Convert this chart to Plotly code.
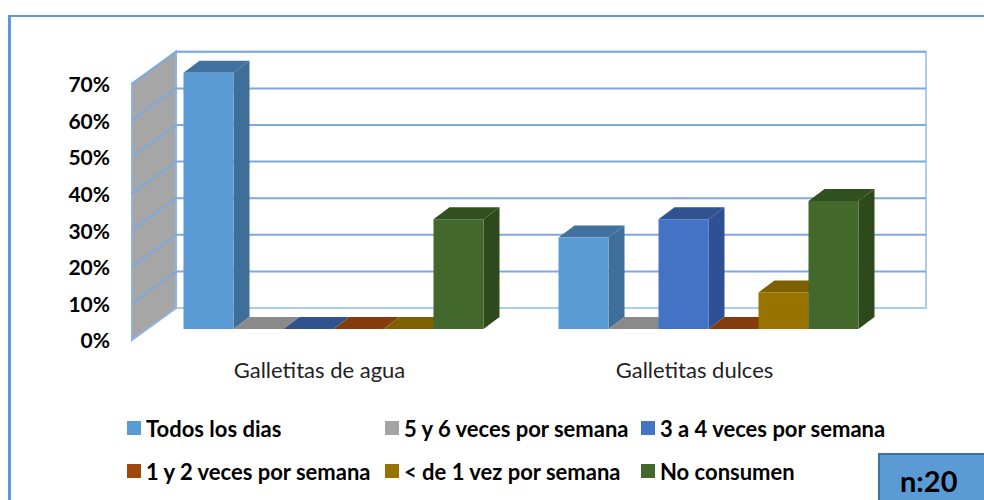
import plotly.graph_objects as go

categories = ["Galletitas de agua", "Galletitas dulces"]
series_names = [
    "Todos los dias",
    "5 y 6 veces por semana",
    "3 a 4 veces por semana",
    "1 y 2 veces por semana",
    "< de 1 vez por semana",
    "No consumen",
]
todos_los_dias = [70, 25]
cinco_seis = [0, 0]
tres_cuatro = [0, 30]
uno_dos = [0, 0]
menos_de_uno = [0, 10]
no_consumen = [30, 35]
series_values = [todos_los_dias, cinco_seis, tres_cuatro, uno_dos, menos_de_uno, no_consumen]
tick_values = [0, 10, 20, 30, 40, 50, 60, 70]
tick_labels = ["0%", "10%", "20%", "30%", "40%", "50%", "60%", "70%"]

front_colors = ["#5B9BD5", "#A5A5A5", "#4472C4", "#9E480E", "#997300", "#43682B"]
side_colors = ["#3F6E99", "#7F7F7F", "#2F5095", "#7A3609", "#705400", "#2E4A1D"]
top_colors = ["#41719F", "#8A8A8A", "#30528F", "#843C0C", "#7F6000", "#30501F"]
GRID = "#7FA8DC"
EDGE = "#A9CDEE"

WIDTH, HEIGHT = 984, 500
PLOT_L, PLOT_R, PLOT_T, PLOT_B = 111, 950, 40, 355
FONT = "Lato"

# pixel scale of the axes: 375 px per category, 3.66 px per percent
PX_X = 375.0
PX_Y = 3.66
X0_PX = 333.5
Y0_PX = 329.0
x_range = [(PLOT_L - X0_PX) / PX_X, (PLOT_R - X0_PX) / PX_X]
y_range = [(Y0_PX - PLOT_B) / PX_Y, (Y0_PX - PLOT_T) / PX_Y]

BAR_W = 50 / PX_X
DEPTH_X = 16 / PX_X
DEPTH_Y = 12 / PX_Y
# chart walls sit a fixed distance behind / in front of the bars
WALL_BACK_X, WALL_BACK_Y = 30 / PX_X, 21 / PX_Y
WALL_FRONT_X, WALL_FRONT_Y = -14 / PX_X, -11 / PX_Y


def paper_x(px):
    return (px - PLOT_L) / (PLOT_R - PLOT_L)


def paper_y(px):
    return (PLOT_B - px) / (PLOT_B - PLOT_T)


def poly(points, fill, line=None, width=0):
    path = "M " + " L ".join(f"{x},{y}" for x, y in points) + " Z"
    return dict(
        type="path",
        path=path,
        xref="x",
        yref="y",
        layer="below",
        fillcolor=fill,
        line=dict(color=line or fill, width=width),
    )


shapes = []

# back wall and left wall
wall_left = x_range[0] + (132 - PLOT_L) / PX_X
wall_right = wall_left + (WALL_BACK_X - WALL_FRONT_X) + 2
back_left = wall_left + WALL_BACK_X - WALL_FRONT_X
y_top = tick_values[-1]
shapes.append(
    poly(
        [
            (back_left, WALL_BACK_Y),
            (wall_right, WALL_BACK_Y),
            (wall_right, y_top + WALL_BACK_Y),
            (back_left, y_top + WALL_BACK_Y),
        ],
        "white",
        EDGE,
        2,
    )
)
shapes.append(
    poly(
        [
            (wall_left, WALL_FRONT_Y),
            (back_left, WALL_BACK_Y),
            (back_left, y_top + WALL_BACK_Y),
            (wall_left, y_top + WALL_FRONT_Y),
        ],
        "#A6A6A6",
        "#8FB4DC",
        2,
    )
)

# gridlines run along the left wall and across the back wall
for v in tick_values[1:]:
    gy = v + WALL_BACK_Y
    shapes.append(
        dict(
            type="path",
            path=f"M {wall_left},{v + WALL_FRONT_Y} L {back_left},{gy} L {wall_right},{gy}",
            xref="x",
            yref="y",
            layer="below",
            line=dict(color=GRID, width=2),
        )
    )

# depth faces for each bar, bars themselves are drawn on top of these
n_series = len(series_values)
for c in range(len(categories)):
    for s in range(n_series):
        v = series_values[s][c]
        left = c + (s - n_series / 2) * BAR_W
        right = left + BAR_W
        shapes.append(
            poly(
                [
                    (left, v),
                    (right, v),
                    (right + DEPTH_X, v + DEPTH_Y),
                    (left + DEPTH_X, v + DEPTH_Y),
                ],
                top_colors[s],
            )
        )
        if v > 0:
            shapes.append(
                poly(
                    [
                        (right, 0),
                        (right + DEPTH_X, DEPTH_Y),
                        (right + DEPTH_X, v + DEPTH_Y),
                        (right, v),
                    ],
                    side_colors[s],
                )
            )

# outer frame: only the left and top edges are inside the picture
shapes.append(
    dict(
        type="line",
        xref="paper",
        yref="paper",
        x0=paper_x(9.5),
        x1=paper_x(9.5),
        y0=paper_y(505),
        y1=paper_y(15),
        line=dict(color="#5B9BD5", width=3),
        layer="below",
    )
)
shapes.append(
    dict(
        type="line",
        xref="paper",
        yref="paper",
        x0=paper_x(8),
        x1=paper_x(990),
        y0=paper_y(16),
        y1=paper_y(16),
        line=dict(color="#5B9BD5", width=2),
        layer="below",
    )
)
shapes.append(
    dict(
        type="rect",
        xref="paper",
        yref="paper",
        x0=paper_x(879),
        x1=paper_x(990),
        y0=paper_y(505),
        y1=paper_y(454),
        line=dict(color="#41719C", width=2),
        fillcolor="#5B9BD5",
    )
)

annotations = [
    dict(
        text="n:20",
        xref="paper",
        yref="paper",
        x=paper_x(929),
        y=paper_y(480),
        xanchor="center",
        yanchor="middle",
        showarrow=False,
        font=dict(family=FONT, size=29, color="#000000", weight="bold"),
    )
]

# legend is laid out by hand: two rows with uneven columns
legend_x = [127, 385, 641, 127, 385, 641]
legend_y = [428, 428, 428, 471, 471, 471]
for s, name in enumerate(series_names):
    shapes.append(
        dict(
            type="rect",
            xref="paper",
            yref="paper",
            x0=paper_x(legend_x[s]),
            x1=paper_x(legend_x[s] + 14),
            y0=paper_y(legend_y[s] + 7),
            y1=paper_y(legend_y[s] - 7),
            fillcolor=front_colors[s],
            line=dict(width=0),
        )
    )
    annotations.append(
        dict(
            text=name,
            xref="paper",
            yref="paper",
            x=paper_x(legend_x[s] + 17),
            y=paper_y(legend_y[s]),
            xanchor="left",
            yanchor="middle",
            showarrow=False,
            font=dict(family=FONT, size=22, color="#000000", weight="bold"),
        )
    )

fig = go.Figure()
for s, name in enumerate(series_names):
    fig.add_trace(
        go.Bar(
            x=[0, 1],
            y=series_values[s],
            name=name,
            marker=dict(color=front_colors[s], line=dict(width=0)),
            showlegend=False,
        )
    )

fig.update_layout(
    width=WIDTH,
    height=HEIGHT,
    margin=dict(l=PLOT_L, r=WIDTH - PLOT_R, t=PLOT_T, b=HEIGHT - PLOT_B),
    paper_bgcolor="white",
    plot_bgcolor="rgba(0,0,0,0)",
    barmode="group",
    bargap=0.2,
    bargroupgap=0,
    shapes=shapes,
    annotations=annotations,
    xaxis=dict(
        range=x_range,
        tickmode="array",
        tickvals=[(319.5 - X0_PX) / PX_X, (694.5 - X0_PX) / PX_X],
        ticktext=categories,
        tickfont=dict(family=FONT, size=22, color="#222222"),
        showgrid=False,
        zeroline=False,
        showline=False,
        ticks="",
    ),
    yaxis=dict(
        range=y_range,
        tickmode="array",
        # labels sit on the front edge of the left wall
        tickvals=[v + WALL_FRONT_Y - 1 / PX_Y for v in tick_values],
        ticktext=tick_labels,
        tickfont=dict(family=FONT, size=21, color="#000000", weight="bold"),
        showgrid=False,
        zeroline=False,
        showline=False,
        ticks="",
    ),
)

fig.write_html(
    "out.html",
    config={"displayModeBar": False},
    post_script="document.body.style.margin = '0';",
)
